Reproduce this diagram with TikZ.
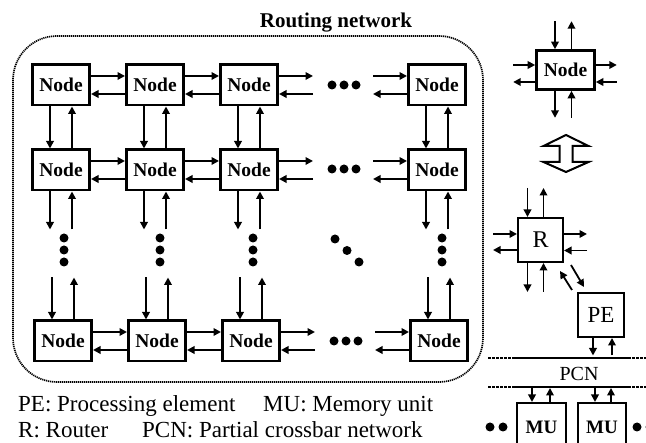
\documentclass[tikz,border=0pt]{standalone}
\usepackage{fontspec}
\setmainfont{Liberation Serif}
\usetikzlibrary{arrows.meta,calc}
\begin{document}
\begin{tikzpicture}[x=1pt,y=-1pt,
  box/.style={draw,line width=2.6pt,minimum width=57.4pt,minimum height=40.4pt,inner sep=0pt,font=\bfseries\fontsize{19.5}{21}\selectfont},
  thinbox/.style={draw,line width=2pt,inner sep=0pt},
  arr/.style={line width=1.8pt,-{Triangle[length=7.5pt,width=7.5pt]}},
  dotline/.style={line width=1.7pt,dash pattern=on 1.2pt off 0.8pt},
  pcnline/.style={line width=2.8pt},
  pcndash/.style={line width=2.6pt,dash pattern=on 2.5pt off 1.5pt},
  legend/.style={anchor=base west,inner sep=0pt,font=\fontsize{23}{25}\selectfont}]
\useasboundingbox (0,0) rectangle (646,443);
\clip (0,0) rectangle (646,443);

% routing network frame and title
\draw[dotline,rounded corners=44pt] (13,36) rectangle (483,382);
\node[anchor=base,inner sep=0pt,font=\bfseries\fontsize{21}{23}\selectfont] (title) at (336,28) {Routing network};

% grid of nodes
\foreach \r/\y in {1/85,2/170}
  \foreach \c/\x in {1/61,2/155,3/249,4/437}
    \node[box] (n\r\c) at (\x,\y) {Node};
\foreach \c/\x in {1/63,2/157,3/251,4/439}
  \node[box] (n3\c) at (\x,341) {Node};

% horizontal links
\foreach \r in {1,2,3} {
  \foreach \a/\b in {1/2,2/3} {
    \draw[arr] ($(n\r\a.east)+(0,-9)$) -- ($(n\r\b.west)+(0,-9)$);
    \draw[arr] ($(n\r\b.west)+(0,9)$) -- ($(n\r\a.east)+(0,9)$);
  }
  \draw[arr] ($(n\r3.east)+(0,-9)$) -- ++(34,0);
  \draw[arr] ($(n\r3.east)+(34,9)$) -- ($(n\r3.east)+(0,9)$);
  \draw[arr] ($(n\r4.west)+(-34,-9)$) -- ($(n\r4.west)+(0,-9)$);
  \draw[arr] ($(n\r4.west)+(0,9)$) -- ++(-34,0);
}
% horizontal dots
\foreach \y in {85,169} \foreach \x in {332,344,356} \fill (\x,\y) circle (4.5pt);
\foreach \x in {334,346,358} \fill (\x,341) circle (4.5pt);

% vertical links
\foreach \c in {1,2,3,4} {
  \draw[arr] ($(n1\c.south)+(-11,0)$) -- ($(n2\c.north)+(-11,0)$);
  \draw[arr] ($(n2\c.north)+(11,0)$) -- ($(n1\c.south)+(11,0)$);
  \draw[arr] ($(n2\c.south)+(-11,0)$) -- ++(0,38);
  \draw[arr] ($(n2\c.south)+(11,38)$) -- ($(n2\c.south)+(11,0)$);
  \draw[arr] ($(n3\c.north)+(-11,-42)$) -- ($(n3\c.north)+(-11,0)$);
  \draw[arr] ($(n3\c.north)+(11,0)$) -- ++(0,-42);
}
% vertical and diagonal dots
\foreach \x in {64,160,253,442} \foreach \y in {238,250,262} \fill (\x,\y) circle (4.5pt);
\fill (335,239) circle (4.5pt) (347,250.5) circle (4.5pt) (359,262) circle (4.5pt);

% single node (right top)
\node[box,minimum width=58pt,minimum height=39pt] (tn) at (565.5,70) {Node};
\draw[arr] ($(tn.north)+(-10.5,-28)$) -- ($(tn.north)+(-10.5,0)$);
\draw[arr] ($(tn.north)+(6,0)$) -- ++(0,-28);
\draw[arr] ($(tn.west)+(-22,-5)$) -- ($(tn.west)+(0,-5)$);
\draw[arr] ($(tn.west)+(0,12)$) -- ++(-22,0);
\draw[arr] ($(tn.east)+(0,-5)$) -- ++(21,0);
\draw[arr] ($(tn.east)+(21,12)$) -- ($(tn.east)+(0,12)$);
\draw[arr] ($(tn.south)+(-10.5,0)$) -- ++(0,27);
\draw[arr] ($(tn.south)+(6,27)$) -- ($(tn.south)+(6,0)$);

% hollow double arrow
\draw[line width=2pt,fill=white,line join=miter]
  (566,135) -- (588.5,146) -- (572.5,146) -- (572.5,162) -- (588.5,162) -- (566,172)
  -- (543.5,162) -- (559.5,162) -- (559.5,146) -- (543.5,146) -- cycle;

% router
\node[thinbox,minimum width=45pt,minimum height=44pt,font=\fontsize{24}{26}\selectfont] (r) at (540.5,240) {R};
\draw[arr] ($(r.north)+(-13,-29)$) -- ($(r.north)+(-13,0)$);
\draw[arr] ($(r.north)+(3,0)$) -- ++(0,-29);
\draw[arr] ($(r.west)+(-24,-6)$) -- ($(r.west)+(0,-6)$);
\draw[arr] ($(r.west)+(0,10)$) -- ++(-24,0);
\draw[arr] ($(r.east)+(0,-6)$) -- ++(23,0);
\draw[arr] ($(r.east)+(23,10.5)$) -- ($(r.east)+(0,10.5)$);
\draw[arr] ($(r.south)+(-13,0)$) -- ++(0,29);
\draw[arr] ($(r.south)+(3,29)$) -- ($(r.south)+(3,0)$);

% processing element
\node[thinbox,minimum width=46pt,minimum height=44pt,font=\fontsize{23}{25}\selectfont] (pe) at (601,315) {PE};
\draw[arr] ($(r.south east)+(7,2)$) -- ($(pe.north west)+(7,-5)$);
\draw[arr] ($(pe.north west)+(-5,-2)$) -- ($(r.south east)+(-4,8)$);

% partial crossbar network
\coordinate (pcnA) at (515,358);
\coordinate (pcnB) at (628,358);
\coordinate (pcnC) at (515,387);
\coordinate (pcnD) at (628,387);
\draw[pcnline] (pcnA) -- (pcnB);
\draw[pcnline] (pcnC) -- (pcnD);
\draw[pcndash] (488,358) -- (pcnA) (pcnB) -- (650,358);
\draw[pcndash] (488,387) -- (pcnC) (pcnD) -- (650,387);
\node[inner sep=0pt,font=\fontsize{20}{22}\selectfont] (pcn) at (579,374) {PCN};
\draw[arr] ($(pe.south)+(-8,0)$) -- ++(0,17.5);
\draw[arr] ($(pe.south)+(11,17.5)$) -- ($(pe.south)+(11,0)$);

% memory units
\node[thinbox,minimum width=49pt,minimum height=48pt,font=\bfseries\fontsize{19}{21}\selectfont] (mu1) at (541.5,427) {MU};
\node[thinbox,minimum width=48pt,minimum height=48pt,font=\bfseries\fontsize{19}{21}\selectfont] (mu2) at (602,427) {MU};
\draw[arr] ($(mu1.north)+(-9.5,-14)$) -- ($(mu1.north)+(-9.5,0)$);
\draw[arr] ($(mu1.north)+(8.5,0)$) -- ++(0,-14);
\draw[arr] ($(mu2.north)+(-7,-14)$) -- ($(mu2.north)+(-7,0)$);
\draw[arr] ($(mu2.north)+(9,0)$) -- ++(0,-14);
\fill (490,427) circle (4.5pt) (503,427) circle (4.5pt) (637,427) circle (4.5pt) (650,427) circle (4.5pt);

% legend
\node[legend] (l1) at (18,412) {PE: Processing element};
\node[legend] (l2) at (263,412) {MU: Memory unit};
\node[legend] (l3) at (18,438) {R: Router};
\node[legend] (l4) at (142,438) {PCN: Partial crossbar network};
\end{tikzpicture}
\end{document}
